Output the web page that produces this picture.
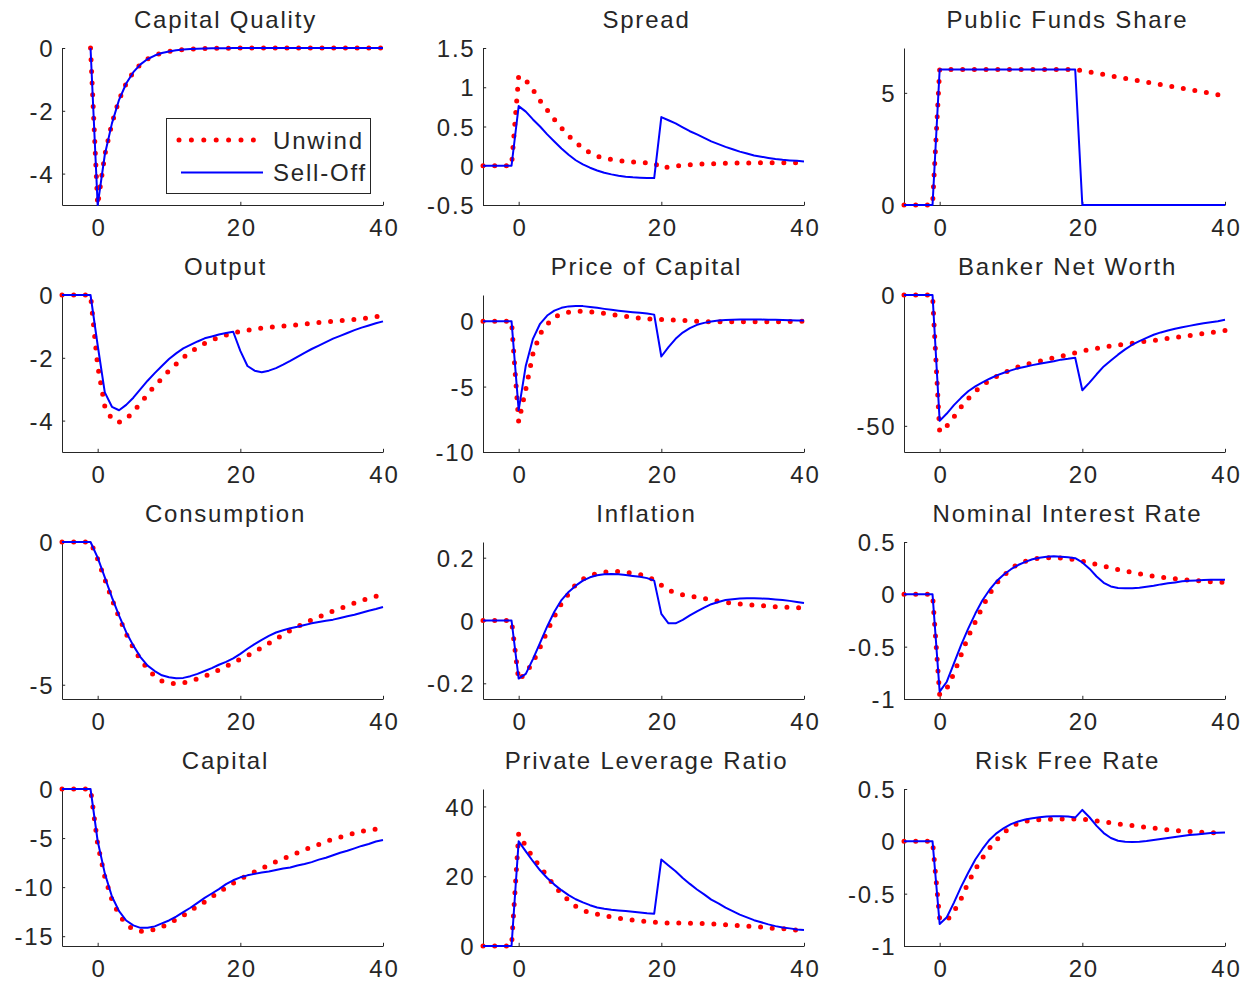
<!DOCTYPE html>
<html>
<head>
<meta charset="utf-8">
<title>Unwind vs Sell-Off</title>
<script src="https://cdn.jsdelivr.net/npm/d3@7"></script>
<style>
  body { margin: 0; background: #fff; }
  #chart svg { display: block; }
</style>
</head>
<body>
<div id="chart"></div>
<script>
// Data
const periods = [-5,-4,-3,-2,-1,0,1,2,3,4,5,6,7,8,9,10,11,12,13,14,15,16,17,18,19,20,
  21,22,23,24,25,26,27,28,29,30,31,32,33,34,35,36,37,38,39,40];

const titles = ["Capital Quality", "Spread", "Public Funds Share", "Output", "Price of Capital",
  "Banker Net Worth", "Consumption", "Inflation", "Nominal Interest Rate", "Capital",
  "Private Leverage Ratio", "Risk Free Rate"];

const seriesNames = ["Unwind", "Sell-Off"];

const yDomains = [[-5, 0], [-0.5, 1.5], [0, 7], [-5, 0], [-10, 2], [-60, 0],
  [-5.5, 0], [-0.25, 0.25], [-1, 0.5], [-16, 0], [0, 45], [-1, 0.5]];

const yTickValues = [[-4, -2, 0], [-0.5, 0, 0.5, 1, 1.5], [0, 5], [-4, -2, 0], [-10, -5, 0], [-50, 0],
  [-5, 0], [-0.2, 0, 0.2], [-1, -0.5, 0, 0.5], [-15, -10, -5, 0], [0, 20, 40], [-1, -0.5, 0, 0.5]];

const xTickValues = [0, 20, 40];

const capitalQualityUnwind = [null,null,null,null,0,
  -5,-3.4,-2.4,-1.65,-1.13,-0.77,-0.52,-0.35,-0.24,-0.16,
  -0.11,-0.075,-0.05,-0.034,-0.023,-0.015,-0.01,-0.007,-0.005,-0.003,
  -0.002,0,0,0,0,0,0,0,0,0,
  0,0,0,0,0,0,0,0,0,0,0];
const capitalQualitySellOff = [null,null,null,null,0,
  -5,-3.4,-2.4,-1.65,-1.13,-0.77,-0.52,-0.35,-0.24,-0.16,
  -0.11,-0.075,-0.05,-0.034,-0.023,-0.015,-0.01,-0.007,-0.005,-0.003,
  -0.002,0,0,0,0,0,0,0,0,0,
  0,0,0,0,0,0,0,0,0,0,0];

const spreadUnwind = [0,0,0,0,0,
  1.14,1.09,0.97,0.83,0.71,0.59,0.48,0.38,0.3,0.22,
  0.165,0.12,0.097,0.08,0.068,0.055,0.047,0.042,0.038,0.034,
  -0.03,-0.015,-0.005,0.005,0.012,0.018,0.022,0.026,0.029,0.031,
  0.033,0.034,0.035,0.036,0.037,0.037,0.038,0.038,0.038,0.037,0.036];
const spreadSellOff = [0,0,0,0,0,
  0.76,0.69,0.59,0.5,0.4,0.31,0.22,0.14,0.07,0.017,
  -0.025,-0.06,-0.09,-0.11,-0.127,-0.14,-0.148,-0.153,-0.157,-0.157,
  0.62,0.58,0.54,0.49,0.44,0.4,0.355,0.31,0.275,0.24,
  0.21,0.18,0.155,0.13,0.115,0.1,0.085,0.075,0.068,0.063,0.055];

const publicFundsUnwind = [0,0,0,0,0,
  6.04,6.04,6.04,6.04,6.04,6.04,6.04,6.04,6.04,6.04,
  6.04,6.04,6.04,6.04,6.04,6.04,6.04,6.04,6.04,6.04,
  5.98,5.93,5.87,5.82,5.76,5.7,5.65,5.59,5.54,5.48,
  5.42,5.37,5.31,5.26,5.2,5.14,5.09,5.03,4.98,4.92,4.86];
const publicFundsSellOff = [0,0,0,0,0,
  6.04,6.04,6.04,6.04,6.04,6.04,6.04,6.04,6.04,6.04,
  6.04,6.04,6.04,6.04,6.04,6.04,6.04,6.04,6.04,6.04,
  0,0,0,0,0,0,0,0,0,0,
  0,0,0,0,0,0,0,0,0,0,0];

const outputUnwind = [0,0,0,0,0,
  -2.26,-3.54,-3.96,-4.05,-3.96,-3.71,-3.46,-3.16,-2.89,-2.66,
  -2.41,-2.2,-1.99,-1.82,-1.67,-1.54,-1.44,-1.35,-1.28,-1.21,
  -1.16,-1.12,-1.09,-1.05,-1.03,-1.01,-0.99,-0.97,-0.95,-0.93,
  -0.9,-0.88,-0.86,-0.84,-0.82,-0.8,-0.78,-0.76,-0.72,-0.69,-0.66];
const outputSellOff = [0,0,0,0,0,
  -1.6,-3.1,-3.56,-3.67,-3.5,-3.27,-3.0,-2.73,-2.49,-2.26,
  -2.04,-1.86,-1.7,-1.59,-1.48,-1.38,-1.32,-1.26,-1.21,-1.17,
  -1.78,-2.26,-2.41,-2.46,-2.41,-2.33,-2.22,-2.1,-1.97,-1.84,
  -1.72,-1.61,-1.5,-1.39,-1.3,-1.21,-1.12,-1.04,-0.97,-0.9,-0.84];

const priceCapitalUnwind = [0,0,0,0,0,
  -7.7,-5.2,-2.5,-0.97,-0.25,0.3,0.56,0.69,0.76,0.76,
  0.71,0.66,0.59,0.51,0.43,0.36,0.28,0.23,0.18,0.15,
  0.13,0.1,0.08,0.05,0.03,0,-0.03,-0.05,-0.05,-0.05,
  -0.05,-0.05,-0.05,-0.05,-0.05,-0.05,-0.04,-0.03,-0.03,-0.02,-0.01];
const priceCapitalSellOff = [0,0,0,0,0,
  -6.8,-3.4,-1.35,-0.2,0.43,0.81,1.02,1.13,1.16,1.15,
  1.09,1.02,0.94,0.87,0.8,0.74,0.69,0.64,0.59,0.5,
  -2.7,-1.98,-1.35,-0.87,-0.53,-0.28,-0.13,-0.03,0.05,0.08,
  0.1,0.12,0.12,0.12,0.12,0.11,0.1,0.09,0.07,0.06,0.05];

const netWorthUnwind = [0,0,0,0,0,
  -52.3,-50.1,-46.6,-42.8,-39.6,-36.8,-34.5,-32.6,-31.1,-29.8,
  -28.6,-27.5,-26.6,-25.9,-25.3,-24.6,-24.0,-23.4,-22.7,-22.1,
  -21.4,-20.9,-20.4,-19.9,-19.5,-19.2,-18.8,-18.4,-18.0,-17.6,
  -17.4,-17.0,-16.6,-16.2,-15.9,-15.5,-15.1,-14.7,-14.3,-14.0,-13.6];
const netWorthSellOff = [0,0,0,0,0,
  -48.1,-45.3,-42.1,-39.3,-36.8,-34.9,-33.4,-32.0,-30.7,-29.7,
  -28.8,-28.0,-27.4,-26.8,-26.3,-25.8,-25.3,-24.7,-24.4,-24.0,
  -36.4,-33.5,-30.3,-27.3,-25.0,-22.8,-20.8,-19.0,-17.6,-16.4,
  -15.2,-14.3,-13.6,-12.9,-12.3,-11.8,-11.3,-10.8,-10.4,-10.0,-9.5];

const consumptionUnwind = [0,0,0,0,0,
  -0.6,-1.3,-2.0,-2.64,-3.22,-3.71,-4.13,-4.44,-4.71,-4.87,
  -4.94,-4.97,-4.94,-4.88,-4.79,-4.7,-4.59,-4.48,-4.36,-4.23,
  -4.1,-3.98,-3.84,-3.7,-3.55,-3.4,-3.24,-3.1,-2.97,-2.85,
  -2.73,-2.63,-2.52,-2.42,-2.33,-2.23,-2.14,-2.05,-1.97,-1.9,-1.83];
const consumptionSellOff = [0,0,0,0,0,
  -0.55,-1.24,-1.94,-2.58,-3.16,-3.63,-4.03,-4.33,-4.52,-4.67,
  -4.74,-4.77,-4.76,-4.7,-4.62,-4.52,-4.42,-4.3,-4.2,-4.08,
  -3.92,-3.74,-3.58,-3.43,-3.29,-3.17,-3.09,-3.02,-2.97,-2.91,
  -2.85,-2.8,-2.76,-2.72,-2.66,-2.6,-2.55,-2.48,-2.41,-2.35,-2.28];

const inflationUnwind = [0,0,0,0,0,
  -0.19,-0.167,-0.133,-0.086,-0.034,0.0125,0.054,0.085,0.115,0.132,
  0.143,0.15,0.154,0.156,0.156,0.154,0.15,0.146,0.14,0.129,
  0.1125,0.097,0.0875,0.082,0.078,0.074,0.07,0.066,0.061,0.058,
  0.055,0.053,0.051,0.049,0.047,0.046,0.044,0.043,0.042,0.041,0.04];
const inflationSellOff = [0,0,0,0,0,
  -0.185,-0.17,-0.123,-0.071,-0.019,0.028,0.065,0.091,0.111,0.127,
  0.1375,0.144,0.147,0.148,0.147,0.145,0.142,0.139,0.135,0.127,
  0.021,-0.009,-0.009,0.002,0.016,0.029,0.041,0.052,0.059,0.065,
  0.068,0.07,0.071,0.071,0.07,0.069,0.067,0.065,0.0625,0.059,0.056];

const nominalRateUnwind = [0,0,0,0,0,
  -0.96,-0.9,-0.755,-0.58,-0.405,-0.263,-0.12,0.006,0.108,0.18,
  0.244,0.29,0.316,0.335,0.345,0.35,0.35,0.348,0.342,0.33,
  0.317,0.3,0.285,0.27,0.253,0.237,0.222,0.21,0.196,0.184,
  0.174,0.165,0.155,0.149,0.142,0.136,0.13,0.127,0.12,0.117,0.114];
const nominalRateSellOff = [0,0,0,0,0,
  -0.93,-0.835,-0.66,-0.485,-0.327,-0.184,-0.057,0.044,0.127,0.19,
  0.24,0.28,0.31,0.335,0.35,0.36,0.365,0.36,0.355,0.345,
  0.305,0.245,0.17,0.11,0.075,0.06,0.057,0.057,0.063,0.072,
  0.082,0.095,0.105,0.114,0.124,0.13,0.133,0.136,0.14,0.14,0.14];

const capitalUnwind = [0,0,0,0,0,
  -5.6,-8.95,-11.3,-12.8,-13.8,-14.3,-14.5,-14.5,-14.3,-14.05,
  -13.7,-13.3,-12.9,-12.4,-11.95,-11.5,-11.0,-10.5,-10.05,-9.6,
  -9.2,-8.8,-8.45,-8.1,-7.75,-7.4,-7.1,-6.8,-6.5,-6.2,
  -5.9,-5.65,-5.35,-5.1,-4.9,-4.7,-4.5,-4.3,-4.2,-4.1,-4.0];
const capitalSellOff = [0,0,0,0,0,
  -5.3,-8.6,-10.95,-12.45,-13.4,-13.9,-14.15,-14.15,-14.0,-13.7,
  -13.4,-13.0,-12.55,-12.1,-11.6,-11.1,-10.65,-10.2,-9.7,-9.3,
  -9.0,-8.8,-8.65,-8.5,-8.4,-8.25,-8.1,-8.0,-7.8,-7.65,
  -7.45,-7.2,-7.0,-6.75,-6.5,-6.3,-6.05,-5.8,-5.6,-5.35,-5.2];

const leverageUnwind = [0,0,0,0,0,
  32.2,28.6,25.4,22.7,20.0,17.3,15.0,13.1,11.4,10.3,
  9.5,9.1,8.7,8.3,7.95,7.65,7.4,7.2,7.0,6.8,
  6.65,6.6,6.57,6.55,6.53,6.48,6.42,6.35,6.25,6.12,
  6.0,5.85,5.7,5.55,5.4,5.2,5.05,4.95,4.8,4.55,4.4];
const leverageSellOff = [0,0,0,0,0,
  30.0,27.1,24.3,21.7,19.5,17.6,16.0,14.6,13.4,12.5,
  11.7,11.05,10.7,10.4,10.2,10.0,9.8,9.6,9.4,9.25,
  24.8,23.1,21.4,19.5,17.8,16.2,14.8,13.3,12.2,11.0,
  10.0,9.0,8.2,7.4,6.8,6.2,5.7,5.3,5.05,4.75,4.6];

const riskFreeUnwind = [0,0,0,0,0,
  -0.74,-0.757,-0.67,-0.55,-0.395,-0.268,-0.158,-0.063,0.016,0.085,
  0.136,0.174,0.192,0.2,0.208,0.21,0.21,0.214,0.214,0.214,
  0.21,0.205,0.196,0.186,0.177,0.167,0.158,0.151,0.142,0.132,
  0.126,0.117,0.11,0.104,0.098,0.095,0.088,0.085,0.082,0.079,0.076];
const riskFreeSellOff = [0,0,0,0,0,
  -0.79,-0.725,-0.585,-0.435,-0.3,-0.174,-0.073,0.016,0.079,0.126,
  0.164,0.19,0.208,0.22,0.23,0.237,0.24,0.24,0.237,0.227,
  0.3,0.23,0.148,0.079,0.032,0.006,-0.003,-0.006,-0.003,0.003,
  0.013,0.022,0.032,0.041,0.05,0.06,0.066,0.073,0.079,0.082,0.085];

const unwindSeries = [capitalQualityUnwind, spreadUnwind, publicFundsUnwind, outputUnwind,
  priceCapitalUnwind, netWorthUnwind, consumptionUnwind, inflationUnwind, nominalRateUnwind,
  capitalUnwind, leverageUnwind, riskFreeUnwind];
const sellOffSeries = [capitalQualitySellOff, spreadSellOff, publicFundsSellOff, outputSellOff,
  priceCapitalSellOff, netWorthSellOff, consumptionSellOff, inflationSellOff, nominalRateSellOff,
  capitalSellOff, leverageSellOff, riskFreeSellOff];

function draw() {
  // Dimensions
  const dimensions = {
    width: 1250,
    height: 983,
    left: 62,
    top: 48,
    colStep: 421,
    rowStep: 247,
    plotWidth: 321,
    plotHeight: 157,
  };

  const fontFamily = '"Liberation Sans", Arial, Helvetica, sans-serif';
  const textColor = "#262626";
  const fontSize = 24;
  const spacing = "1.8px";

  // SVG Image
  const svg = d3
    .select("#chart")
    .append("svg")
    .attr("width", dimensions.width)
    .attr("height", dimensions.height)
    .attr("viewBox", `0 0 ${dimensions.width} ${dimensions.height}`)
    .style("font-family", fontFamily);

  // Shared x scale
  const xScale = d3
    .scaleLinear()
    .domain([periods[0], periods[periods.length - 1]])
    .range([0, dimensions.plotWidth]);

  titles.forEach((title, i) => {
    const col = i % 3;
    const row = Math.floor(i / 3);

    // Panel container
    const ctr = svg
      .append("g")
      .attr(
        "transform",
        `translate(${dimensions.left + col * dimensions.colStep}, ${dimensions.top + row * dimensions.rowStep})`
      );

    const yScale = d3
      .scaleLinear()
      .domain(yDomains[i])
      .range([dimensions.plotHeight, 0]);

    // Axes
    const xAxis = d3
      .axisBottom(xScale)
      .tickValues(xTickValues)
      .tickSizeInner(-3.2)
      .tickSizeOuter(0)
      .tickFormat((d) => String(d));

    const xAxisGroup = ctr
      .append("g")
      .attr("transform", `translate(0, ${dimensions.plotHeight})`)
      .call(xAxis)
      .attr("font-size", fontSize)
      .attr("font-family", fontFamily);

    xAxisGroup
      .selectAll("text")
      .attr("y", 30.5)
      .attr("dy", null)
      .attr("dx", "1px")
      .attr("fill", textColor)
      .style("letter-spacing", spacing);

    const yAxis = d3
      .axisLeft(yScale)
      .tickValues(yTickValues[i])
      .tickSizeInner(-3.2)
      .tickSizeOuter(0)
      .tickFormat((d) => String(d));

    const yAxisGroup = ctr
      .append("g")
      .call(yAxis)
      .attr("font-size", fontSize)
      .attr("font-family", fontFamily);

    yAxisGroup
      .selectAll("text")
      .attr("x", -7.5)
      .attr("dy", "0.36em")
      .attr("fill", textColor)
      .style("letter-spacing", spacing);

    ctr.selectAll(".domain, .tick line").attr("stroke", textColor);

    // Title
    ctr
      .append("text")
      .attr("x", dimensions.plotWidth / 2 + 3)
      .attr("y", -20.5)
      .attr("text-anchor", "middle")
      .attr("font-size", fontSize)
      .attr("fill", textColor)
      .style("letter-spacing", spacing)
      .text(title);

    // Lines
    const line = d3
      .line()
      .defined((d) => d[1] !== null)
      .x((d) => xScale(d[0]))
      .y((d) => yScale(d[1]));

    ctr
      .append("path")
      .datum(periods.map((t, k) => [t, unwindSeries[i][k]]))
      .attr("d", line)
      .attr("fill", "none")
      .attr("stroke", "#ff0000")
      .attr("stroke-width", 5)
      .attr("stroke-linecap", "round")
      .attr("stroke-dasharray", "0 11.7");

    ctr
      .append("path")
      .datum(periods.map((t, k) => [t, sellOffSeries[i][k]]))
      .attr("d", line)
      .attr("fill", "none")
      .attr("stroke", "#0000ff")
      .attr("stroke-width", 2)
      .attr("stroke-linejoin", "round");

    // Legend (first panel only)
    if (i === 0) {
      const legend = ctr.append("g").attr("transform", "translate(104, 70)");

      legend
        .append("rect")
        .attr("x", 0.5)
        .attr("y", 0.5)
        .attr("width", 204)
        .attr("height", 75)
        .attr("fill", "#fff")
        .attr("stroke", textColor)
        .attr("stroke-width", 1);

      const entries = legend
        .selectAll(".entry")
        .data(seriesNames)
        .join("g")
        .attr("class", "entry")
        .attr("transform", (d, k) => `translate(0, ${22 + k * 32.5})`);

      entries
        .append("line")
        .attr("x1", (d, k) => (k === 0 ? 13 : 15))
        .attr("x2", (d, k) => (k === 0 ? 88 : 97))
        .attr("y1", 0)
        .attr("y2", 0)
        .attr("stroke", (d, k) => (k === 0 ? "#ff0000" : "#0000ff"))
        .attr("stroke-width", (d, k) => (k === 0 ? 5 : 2))
        .attr("stroke-linecap", (d, k) => (k === 0 ? "round" : "butt"))
        .attr("stroke-dasharray", (d, k) => (k === 0 ? "0 12.4" : null));

      entries
        .append("text")
        .attr("x", 107)
        .attr("y", 8.5)
        .attr("font-size", fontSize)
        .attr("fill", textColor)
        .style("letter-spacing", spacing)
        .text((d) => d);
    }
  });
}

draw();
</script>
</body>
</html>
